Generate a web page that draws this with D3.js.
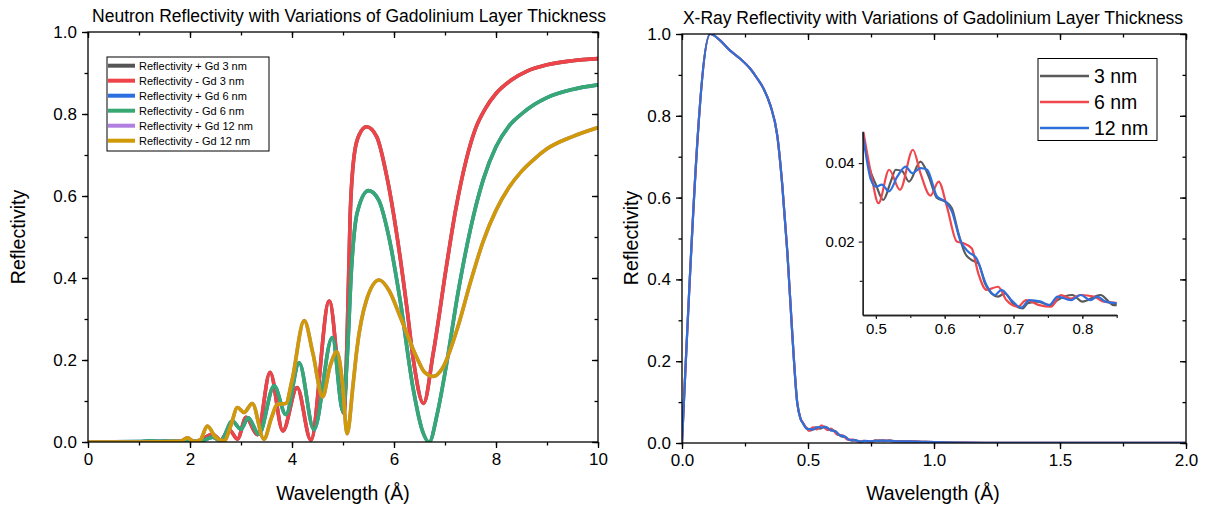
<!DOCTYPE html>
<html><head><meta charset="utf-8">
<script src="https://cdn.jsdelivr.net/npm/d3@7"></script>
<style>body{margin:0;background:#fff} text{font-family:"Liberation Sans",Arial,Helvetica,sans-serif;fill:#000}</style>
</head><body><svg id="c" width="1211" height="508"></svg>
<script>
// ---------- Neutron reflectivity data (wavelength Å, reflectivity) ----------
const gd3Minus = [[0,0],[0.5,0],[1,0.0005],[1.5,0.001],[1.9,0.002],[2.1,0.001],[2.25,0.008],[2.44,0.019],[2.6,0.005],[2.77,0.03],[2.93,0.007],[3.1,0.06],[3.32,0.018],[3.57,0.17],[3.82,0.027],[4.1,0.133],[4.37,0.005],[4.73,0.344],[5.02,0.07],[5.08,0.25],[5.14,0.55],[5.22,0.7],[5.32,0.75],[5.46,0.769],[5.66,0.745],[5.86,0.647],[6.05,0.51],[6.25,0.33],[6.38,0.2],[6.58,0.094],[6.77,0.217],[7.03,0.43],[7.2,0.56],[7.42,0.69],[7.6,0.765],[7.8,0.815],[8.0,0.85],[8.3,0.883],[8.6,0.904],[9.0,0.92],[9.5,0.93],[10,0.935]];
const gd3Plus = gd3Minus;
const gd6Minus = [[0,0],[1,0.001],[1.2,0.003],[1.4,0.002],[1.6,0.003],[1.8,0.002],[2.0,0.003],[2.2,0.002],[2.45,0.012],[2.6,0.002],[2.83,0.051],[3.0,0.031],[3.14,0.059],[3.35,0.019],[3.65,0.137],[3.88,0.067],[4.14,0.193],[4.43,0.03],[4.79,0.255],[5.0,0.074],[5.08,0.2],[5.17,0.43],[5.28,0.56],[5.5,0.613],[5.7,0.59],[5.9,0.5],[6.12,0.346],[6.38,0.127],[6.55,0.03],[6.69,0],[6.85,0.07],[7.03,0.19],[7.25,0.36],[7.5,0.52],[7.75,0.64],[8.0,0.72],[8.25,0.77],[8.5,0.8],[8.75,0.823],[9.0,0.84],[9.5,0.86],[10,0.871]];
const gd6Plus = gd6Minus;
const gd12Minus = [[0,0],[1,0],[1.8,0.0015],[1.95,0.01],[2.08,0.001],[2.2,0.005],[2.34,0.039],[2.5,0.012],[2.67,0.003],[2.8,0.04],[2.93,0.084],[3.06,0.072],[3.22,0.094],[3.45,0.007],[3.6,0.06],[3.71,0.092],[3.88,0.094],[4.0,0.15],[4.24,0.296],[4.41,0.216],[4.6,0.11],[4.745,0.184],[4.88,0.22],[4.99,0.143],[5.08,0.02],[5.2,0.143],[5.27,0.224],[5.46,0.346],[5.71,0.395],[5.9,0.37],[6.12,0.306],[6.44,0.208],[6.6,0.17],[6.77,0.16],[6.95,0.18],[7.25,0.28],[7.5,0.39],[7.75,0.49],[8.0,0.565],[8.25,0.62],[8.5,0.66],[8.75,0.69],[9.0,0.715],[9.5,0.745],[10,0.767]];
const gd12Plus = gd12Minus;
const neutronLabels = ["Reflectivity + Gd 3 nm","Reflectivity - Gd 3 nm","Reflectivity + Gd 6 nm","Reflectivity - Gd 6 nm","Reflectivity + Gd 12 nm","Reflectivity - Gd 12 nm"];
const neutronColors = ["#555555","#ee4348","#2a6ee0","#38a872","#b07fe0","#cf9a06"];
const neutronXTicks = [0,2,4,6,8,10];
const neutronYTicks = [0,0.2,0.4,0.6,0.8,1.0];

// ---------- X-ray reflectivity data ----------
const xrayHead = [[0,0],[0.112,1.0],[0.15,0.985],[0.19,0.96],[0.23,0.94],[0.271,0.915],[0.3,0.89],[0.324,0.866],[0.351,0.825],[0.378,0.752],[0.398,0.63],[0.418,0.467],[0.438,0.263],[0.457,0.1],[0.47,0.06]];
const xray3 = [[0.4808,0.0477],[0.49,0.0391],[0.5,0.0345],[0.5106,0.0306],[0.5216,0.0353],[0.5288,0.0383],[0.5384,0.0379],[0.548,0.0353],[0.5648,0.0404],[0.5768,0.0366],[0.5888,0.0311],[0.6008,0.0302],[0.6104,0.0285],[0.62,0.0221],[0.6296,0.017],[0.6392,0.0153],[0.6488,0.0145],[0.6584,0.0094],[0.668,0.0068],[0.6776,0.006],[0.6872,0.0068],[0.7016,0.0038],[0.7136,0.003],[0.7208,0.0043],[0.735,0.0047],[0.754,0.0038],[0.764,0.0051],[0.7856,0.0064],[0.8,0.0047],[0.8264,0.0064],[0.8457,0.0038],[0.85,0.0038]];
const xray6 = [[0.4808,0.049],[0.4928,0.0374],[0.5038,0.0298],[0.5192,0.0383],[0.535,0.0332],[0.5538,0.0434],[0.5648,0.0374],[0.5792,0.0317],[0.5912,0.0353],[0.6032,0.0289],[0.6176,0.02],[0.6272,0.0196],[0.6392,0.0183],[0.6488,0.0119],[0.6608,0.0077],[0.6776,0.0085],[0.6896,0.0051],[0.7064,0.0034],[0.7184,0.0051],[0.7376,0.0038],[0.7544,0.0034],[0.7688,0.0064],[0.7832,0.0055],[0.7976,0.0064],[0.8168,0.006],[0.8312,0.0047],[0.85,0.0044]];
const xray12 = [[0.4808,0.0475],[0.4928,0.0357],[0.5,0.034],[0.5086,0.0345],[0.5192,0.0328],[0.5312,0.0366],[0.5432,0.0391],[0.5528,0.0374],[0.5648,0.0387],[0.5744,0.0383],[0.5888,0.0315],[0.6008,0.0302],[0.6104,0.0277],[0.6224,0.0204],[0.6344,0.0174],[0.6464,0.0157],[0.6608,0.0089],[0.6728,0.0064],[0.6824,0.0077],[0.6968,0.0051],[0.7112,0.0032],[0.7232,0.0051],[0.74,0.0047],[0.752,0.0038],[0.764,0.006],[0.7832,0.0051],[0.7976,0.0064],[0.812,0.0051],[0.8216,0.006],[0.8337,0.0047],[0.85,0.0043]];
const xrayTail = [[0.9,0.004],[0.95,0.003],[1.0,0.002],[1.1,0.001],[1.2,0.0005],[1.4,0.0002],[2.0,0.0001]];
const xrayLabels = ["3 nm","6 nm","12 nm"];
const xrayColors = ["#5a5a5a","#f0474c","#2f6fdc"];
const xrayXTicks = [0,0.5,1.0,1.5,2.0];
const xrayYTicks = [0,0.2,0.4,0.6,0.8,1.0];
const insetXTicks = [0.5,0.6,0.7,0.8];
const insetYTicks = [0.02,0.04];

const svg = d3.select("#c");

function frame(g, x, y, xMajor, xMinor, yMajor, yMinor, fmtX, fmtY){
  const [x0,x1] = x.range(), [y0,y1] = y.range();
  const sw = 1.3;
  const mk = (axis, tv, size, fmt) => axis.tickValues(tv).tickSizeInner(size).tickSizeOuter(0).tickPadding(5).tickFormat(fmt);
  const b = g.append("g").attr("transform",`translate(0,${y0})`);
  b.call(mk(d3.axisBottom(x), xMinor, 3.5, ""));
  b.append("g").call(mk(d3.axisBottom(x), xMajor, 6, fmtX));
  const l = g.append("g").attr("transform",`translate(${x0},0)`);
  l.call(mk(d3.axisLeft(y), yMinor, 3.5, ""));
  l.append("g").call(mk(d3.axisLeft(y), yMajor, 6, fmtY));
  const t = g.append("g").attr("transform",`translate(0,${y1})`);
  t.call(mk(d3.axisTop(x), xMinor, -3.5, ""));
  t.append("g").call(mk(d3.axisTop(x), xMajor, -6, ""));
  const r = g.append("g").attr("transform",`translate(${x1},0)`);
  r.call(mk(d3.axisRight(y), yMinor, -3.5, ""));
  r.append("g").call(mk(d3.axisRight(y), yMajor, -6, ""));
  g.selectAll(".domain").remove();
  g.selectAll(".tick line").attr("stroke","#000").attr("stroke-width",sw);
  g.selectAll(".tick text").style("font-size","17px").attr("fill","#000");
  g.append("rect").attr("x",x0).attr("y",y1).attr("width",x1-x0).attr("height",y0-y1)
    .attr("fill","none").attr("stroke","#000").attr("stroke-width",sw);
}

// ================= Left: neutron =================
const xN = d3.scaleLinear().domain([0,10]).range([88,598]);
const yN = d3.scaleLinear().domain([0,1]).range([442,32]);
const gN = svg.append("g");
svg.append("clipPath").attr("id","clipN").append("rect").attr("x",88).attr("y",32).attr("width",510).attr("height",410);
const lineN = d3.line().x(d=>xN(d[0])).y(d=>yN(d[1])).curve(d3.curveMonotoneX);
const neutronData = [gd3Plus,gd3Minus,gd6Plus,gd6Minus,gd12Plus,gd12Minus];
gN.append("g").attr("clip-path","url(#clipN)").selectAll("path").data(neutronData).join("path")
  .attr("d",lineN).attr("fill","none").attr("stroke",(d,i)=>neutronColors[i]).attr("stroke-width",3.6)
  .attr("stroke-linejoin","round");
frame(gN, xN, yN, neutronXTicks, d3.range(0,10.01,1), neutronYTicks, d3.range(0,1.001,0.1), d3.format("d"), d3.format(".1f"));

const lgN = gN.append("g");
lgN.append("rect").attr("x",107).attr("y",57).attr("width",162).attr("height",94).attr("fill","#fff").attr("stroke","#000").attr("stroke-width",1);
neutronLabels.forEach((lab,i)=>{
  const yy = 65.7 + i*15;
  lgN.append("line").attr("x1",108).attr("x2",135).attr("y1",yy).attr("y2",yy).attr("stroke",neutronColors[i]).attr("stroke-width",4);
  lgN.append("text").attr("x",139).attr("y",yy).attr("dy","0.35em").style("font-size","11px").text(lab);
});
gN.append("text").attr("x",349).attr("y",21.5).attr("text-anchor","middle").style("font-size","17.5px").text("Neutron Reflectivity with Variations of Gadolinium Layer Thickness");
gN.append("text").attr("x",343).attr("y",500).attr("text-anchor","middle").style("font-size","19.5px").text("Wavelength (Å)");
gN.append("text").attr("transform","translate(25,237) rotate(-90)").attr("text-anchor","middle").style("font-size","19.5px").text("Reflectivity");

// ================= Right: X-ray =================
const xX = d3.scaleLinear().domain([0,2]).range([682,1186]);
const yX = d3.scaleLinear().domain([0,1]).range([443,34]);
const gX = svg.append("g");
svg.append("clipPath").attr("id","clipX").append("rect").attr("x",682).attr("y",34).attr("width",504).attr("height",409);
const xrayData = [xray3,xray6,xray12].map(s=>xrayHead.concat(s,xrayTail));
const lineX = d3.line().x(d=>xX(d[0])).y(d=>yX(d[1])).curve(d3.curveMonotoneX);
gX.append("g").attr("clip-path","url(#clipX)").selectAll("path").data(xrayData).join("path")
  .attr("d",lineX).attr("fill","none").attr("stroke",(d,i)=>xrayColors[i]).attr("stroke-width",2.2);
frame(gX, xX, yX, xrayXTicks, d3.range(0,2.001,0.25), xrayYTicks, d3.range(0,1.001,0.1), d3.format(".1f"), d3.format(".1f"));

const xI = d3.scaleLinear().domain([0.4808,0.85]).range([862.7,1116.7]);
const yI = d3.scaleLinear().domain([0.0013,0.048]).range([315,131.7]);
svg.append("clipPath").attr("id","clipI").append("rect").attr("x",862.7).attr("y",131.7).attr("width",254).attr("height",183.3);
const lineI = d3.line().x(d=>xI(d[0])).y(d=>yI(d[1])).curve(d3.curveMonotoneX);
const gI = gX.append("g");
gI.append("g").attr("clip-path","url(#clipI)").selectAll("path").data(xrayData).join("path")
  .attr("d",lineI).attr("fill","none").attr("stroke",(d,i)=>xrayColors[i]).attr("stroke-width",2.2);
const ib = gI.append("g").attr("transform","translate(0,315)");
ib.call(d3.axisBottom(xI).tickValues([0.5,0.55,0.6,0.65,0.7,0.75,0.8,0.85]).tickSizeInner(3).tickSizeOuter(0).tickFormat(""));
ib.append("g").call(d3.axisBottom(xI).tickValues(insetXTicks).tickSizeInner(4).tickSizeOuter(0).tickPadding(4).tickFormat(d3.format(".1f")));
const il = gI.append("g").attr("transform","translate(862.7,0)");
il.call(d3.axisLeft(yI).tickValues([0.01,0.03]).tickSizeInner(3).tickSizeOuter(0).tickFormat(""));
il.append("g").call(d3.axisLeft(yI).tickValues(insetYTicks).tickSizeInner(4).tickSizeOuter(0).tickPadding(4).tickFormat(d3.format(".2f")));
gI.selectAll(".domain").attr("stroke","#222").attr("stroke-width",1.3);
gI.selectAll(".tick line").attr("stroke","#222").attr("stroke-width",1.2);
gI.selectAll(".tick text").style("font-size","15px").attr("fill","#000");

const lgX = gX.append("g");
lgX.append("rect").attr("x",1038).attr("y",58.5).attr("width",119).attr("height",82).attr("fill","#fff").attr("stroke","#000").attr("stroke-width",1);
xrayLabels.forEach((lab,i)=>{
  const yy = 76 + i*26;
  lgX.append("line").attr("x1",1040).attr("x2",1089).attr("y1",yy).attr("y2",yy).attr("stroke",xrayColors[i]).attr("stroke-width",2.5);
  lgX.append("text").attr("x",1094).attr("y",yy).attr("dy","0.35em").style("font-size","19.5px").text(lab);
});
gX.append("text").attr("x",933).attr("y",23.5).attr("text-anchor","middle").style("font-size","17.5px").text("X-Ray Reflectivity with Variations of Gadolinium Layer Thickness");
gX.append("text").attr("x",933).attr("y",500).attr("text-anchor","middle").style("font-size","19.5px").text("Wavelength (Å)");
gX.append("text").attr("transform","translate(638,238) rotate(-90)").attr("text-anchor","middle").style("font-size","19.5px").text("Reflectivity");
</script></body></html>
